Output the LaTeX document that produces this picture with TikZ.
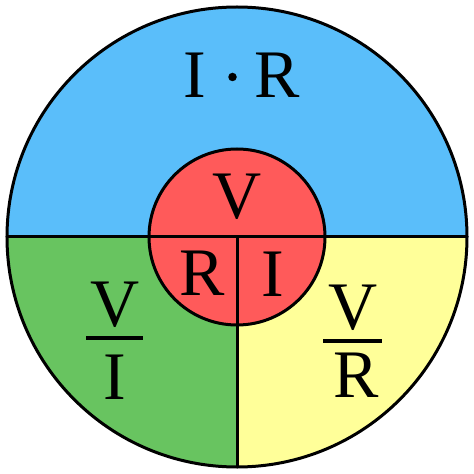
\documentclass[tikz,border=0pt]{standalone}
\usepackage{fontspec}
\setmainfont{Liberation Serif}
\definecolor{skyb}{RGB}{90,190,250}
\definecolor{grn}{RGB}{104,196,96}
\definecolor{ylw}{RGB}{255,255,153}
\definecolor{rd}{RGB}{255,90,90}
\tikzset{
  lbl/.style={anchor=base,inner sep=0pt,font=\fontsize{68}{68}\selectfont},
  edge/.style={line width=3pt,line cap=round},
  fbar/.style={line width=3.8pt}
}
\begin{document}
\begin{tikzpicture}[x=1pt,y=1pt]
\useasboundingbox (0,0) rectangle (474,474);
\coordinate (O) at (237,237);
\coordinate (W) at (7,237);
\coordinate (E) at (467,237);
\coordinate (S) at (237,7);
% fills
\fill[skyb] (W) arc[start angle=180,end angle=0,radius=230] -- cycle;
\fill[grn] (O) -- (W) arc[start angle=180,end angle=270,radius=230] -- cycle;
\fill[ylw] (O) -- (S) arc[start angle=270,end angle=360,radius=230] -- cycle;
\draw[edge] (W) -- (E);
\draw[edge] (O) -- (S);
\draw[edge] (O) circle[radius=230];
\node[circle,fill=rd,draw,line width=3pt,minimum size=176pt,inner sep=0pt] (inner) at (O) {};
\draw[edge] (inner.west) -- (inner.east);
\draw[edge] (O) -- (inner.south);
% top
\node[lbl] (tI) at (195,376) {I};
\node[circle,fill=black,inner sep=0pt,minimum size=8.5pt] (tdot) at (232.5,397) {};
\node[lbl] (tR) at (277.5,376) {R};
% inner
\node[lbl] (iV) at (237,255) {V};
\node[lbl] (iR) at (202.5,178) {R};
\node[lbl] (iI) at (272.5,177) {I};
% left fraction
\node[lbl] (lV) at (115,147) {V};
\coordinate (lb1) at (86,136);
\coordinate (lb2) at (143,136);
\draw[fbar] (lb1) -- (lb2);
\node[lbl] (lI) at (115,74) {I};
% right fraction
\node[lbl] (rV) at (353,144) {V};
\coordinate (rb1) at (323,133);
\coordinate (rb2) at (382,133);
\draw[fbar] (rb1) -- (rb2);
\node[lbl] (rR) at (356,76) {R};
\end{tikzpicture}
\end{document}
